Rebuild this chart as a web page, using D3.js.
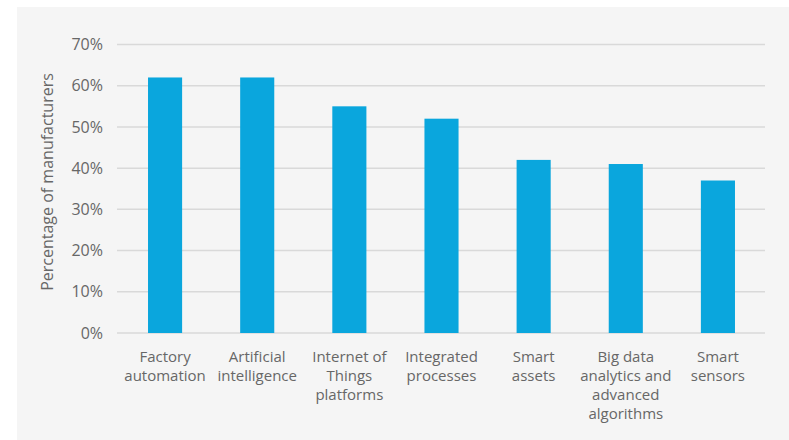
<!DOCTYPE html>
<html>
<head>
<meta charset="utf-8">
<script src="https://cdn.jsdelivr.net/npm/d3@7"></script>
<style>
  body { margin: 0; background: #ffffff; }
  svg text { font-family: "Open Sans", sans-serif; fill: #676767; }
</style>
</head>
<body>
<svg id="chart" width="789" height="440"></svg>
<script>
const categories = [
    ["Factory", "automation"],
    ["Artificial", "intelligence"],
    ["Internet of", "Things", "platforms"],
    ["Integrated", "processes"],
    ["Smart", "assets"],
    ["Big data", "analytics and", "advanced", "algorithms"],
    ["Smart", "sensors"]
];
const values = [62, 62, 55, 52, 42, 41, 37];
const yTicks = [0, 10, 20, 30, 40, 50, 60, 70];

var svg = d3.select("#chart");

// gray panel
svg.append("rect")
    .attr("x", 17).attr("y", 7)
    .attr("width", 789 - 17).attr("height", 440 - 7)
    .attr("fill", "#f5f5f5");

var x = d3.scaleBand()
    .domain(categories.map((d, i) => i))
    .range([119, 764])
    .paddingInner(0.63)
    .paddingOuter(0.315);

var y = d3.scaleLinear()
    .domain([0, 70])
    .range([333, 44.5]);

// gridlines
svg.append("g")
    .selectAll("line")
    .data(yTicks)
    .join("line")
    .attr("x1", 117).attr("x2", 765)
    .attr("y1", d => y(d)).attr("y2", d => y(d))
    .attr("stroke", "#d9d9d9")
    .attr("stroke-width", 1.5);

// y labels
var yAxis = svg.append("g")
    .attr("transform", "translate(103,0)")
    .call(d3.axisLeft(y).tickValues(yTicks).tickSize(0).tickPadding(0).tickFormat(d => d + "%"));
yAxis.select(".domain").remove();
yAxis.selectAll("text")
    .attr("font-size", 16)
    .attr("fill", "#676767")
    .style("font-family", "'Open Sans', sans-serif");

// bars
svg.append("g")
    .selectAll("rect")
    .data(values)
    .join("rect")
    .attr("x", (d, i) => x(i))
    .attr("width", x.bandwidth())
    .attr("y", d => y(d))
    .attr("height", d => y(0) - y(d))
    .attr("fill", "#0aa6dd");

// category labels
var labels = svg.append("g")
    .selectAll("text")
    .data(categories)
    .join("text")
    .attr("text-anchor", "middle")
    .attr("font-size", 15)
    .attr("x", (d, i) => x(i) + x.bandwidth() / 2)
    .attr("y", 362);
labels.selectAll("tspan")
    .data(d => d)
    .join("tspan")
    .attr("x", function() { return this.parentNode.getAttribute("x"); })
    .attr("dy", (d, i) => i === 0 ? 0 : 19)
    .text(d => d);

// y title
svg.append("text")
    .attr("transform", "translate(53,182) rotate(-90)")
    .attr("text-anchor", "middle")
    .attr("font-size", 16)
    .text("Percentage of manufacturers");
</script>
</body>
</html>
